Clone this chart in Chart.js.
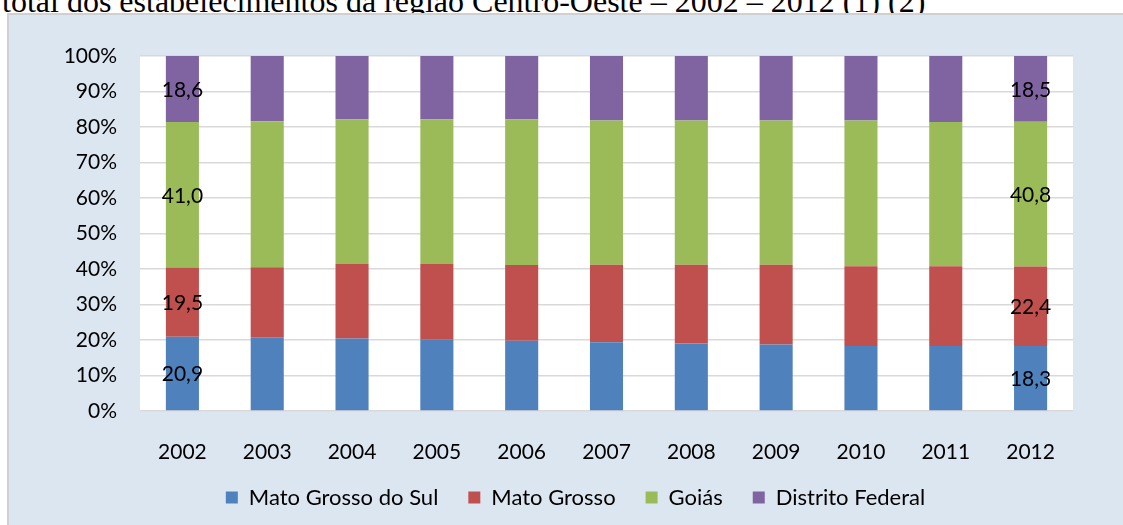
<!DOCTYPE html>
<html>
<head>
<meta charset="utf-8">
<script src="https://cdn.jsdelivr.net/npm/chart.js@4/dist/chart.umd.min.js"></script>
<style>
  html, body { margin: 0; padding: 0; background: #ffffff; width: 1123px; height: 525px; overflow: hidden; }
  #title { position: absolute; left: 2px; top: -15px; font-family: "Liberation Serif", "Times New Roman", serif; font-size: 32px; line-height: 32px; color: #000; white-space: nowrap; }
  #frame { position: absolute; left: 7px; top: 13px; width: 1130px; height: 530px; background: #DCE6F1; border-left: 2px solid #D0D0D0; border-top: 2px solid #D0D0D0; box-sizing: border-box; }
  #c { position: absolute; left: 0; top: 0; }
</style>
</head>
<body>
<div id="title">total dos estabelecimentos da região Centro-Oeste – 2002 – 2012 (1) (2)</div>
<div id="frame"></div>
<canvas id="c" width="1123" height="525"></canvas>
<script>
const years = ["2002","2003","2004","2005","2006","2007","2008","2009","2010","2011","2012"];
const matoGrossoDoSul = [20.9, 20.8, 20.4, 20.1, 19.8, 19.4, 19.0, 18.7, 18.3, 18.3, 18.3];
const matoGrosso      = [19.5, 19.7, 21.0, 21.3, 21.3, 21.8, 22.2, 22.5, 22.5, 22.5, 22.4];
const goias           = [41.0, 41.1, 40.8, 40.8, 41.1, 40.6, 40.6, 40.6, 41.0, 40.6, 40.8];
const distritoFederal = [18.6, 18.4, 17.8, 17.8, 17.8, 18.2, 18.2, 18.2, 18.2, 18.6, 18.5];
const seriesNames = ["Mato Grosso do Sul", "Mato Grosso", "Goiás", "Distrito Federal"];
const labeledIndices = [0, 10];

const FONT = "Lato";
const LEGEND_SIZE = 22;
const LEGEND_PAD = 30;

const plotBg = {
  id: 'plotBg',
  beforeDraw(chart) {
    const a = chart.chartArea, ctx = chart.ctx;
    ctx.save();
    ctx.fillStyle = '#ffffff';
    ctx.fillRect(a.left, a.top, a.right - a.left, a.bottom - a.top);
    ctx.restore();
  }
};

// move the legend box to where it sits in the reference
const legendPlace = {
  id: 'legendPlace',
  afterLayout(chart) {
    const lg = chart.legend;
    if (!lg) return;
    const dx = 575.5 - (lg.left + lg.right) / 2;
    const dy = 497.5 - (lg.top + LEGEND_PAD + LEGEND_SIZE / 2);
    lg.left += dx; lg.right += dx;
    lg.top += dy; lg.bottom += dy;
  }
};

const valueLabels = {
  id: 'valueLabels',
  afterDatasetsDraw(chart) {
    const ctx = chart.ctx;
    ctx.save();
    ctx.font = '21px ' + FONT;
    ctx.fillStyle = '#000000';
    ctx.textAlign = 'center';
    ctx.textBaseline = 'middle';
    chart.data.datasets.forEach((ds, di) => {
      const meta = chart.getDatasetMeta(di);
      labeledIndices.forEach(i => {
        const el = meta.data[i];
        if (!el) return;
        const y = (el.y + el.base) / 2;
        ctx.fillText(ds.data[i].toFixed(1).replace('.', ','), el.x, y + 1);
      });
    });
    ctx.restore();
  }
};

new Chart(document.getElementById('c'), {
  type: 'bar',
  data: {
    labels: years,
    datasets: [
      { label: seriesNames[0], data: matoGrossoDoSul, backgroundColor: '#4F81BD' },
      { label: seriesNames[1], data: matoGrosso, backgroundColor: '#C0504D' },
      { label: seriesNames[2], data: goias, backgroundColor: '#9BBB59' },
      { label: seriesNames[3], data: distritoFederal, backgroundColor: '#8064A2' }
    ]
  },
  options: {
    responsive: false,
    animation: false,
    devicePixelRatio: 1,
    datasets: { bar: { barPercentage: 0.39, categoryPercentage: 1.0 } },
    layout: { padding: { left: 0, right: 50, top: 56, bottom: -8 } },
    plugins: {
      tooltip: { enabled: false },
      legend: {
        position: 'bottom',
        labels: {
          font: { family: FONT, size: LEGEND_SIZE },
          color: '#000000',
          boxWidth: 12,
          boxHeight: 12,
          padding: LEGEND_PAD
        }
      }
    },
    scales: {
      x: {
        stacked: true,
        grid: { display: false, drawTicks: false },
        border: { display: false },
        ticks: { font: { family: FONT, size: 21 }, color: '#000000', padding: 29 },
        afterFit(s) { s.height = 60; }
      },
      y: {
        stacked: true,
        min: 0, max: 100,
        grid: { color: '#D9D9D9', lineWidth: 1.5, drawTicks: false },
        border: { display: false },
        ticks: { stepSize: 10, font: { family: FONT, size: 21 }, color: '#000000', padding: 23,
                 callback: v => v + '%' },
        afterFit(s) { s.width = 140; }
      }
    }
  },
  plugins: [plotBg, legendPlace, valueLabels]
});
</script>
</body>
</html>
